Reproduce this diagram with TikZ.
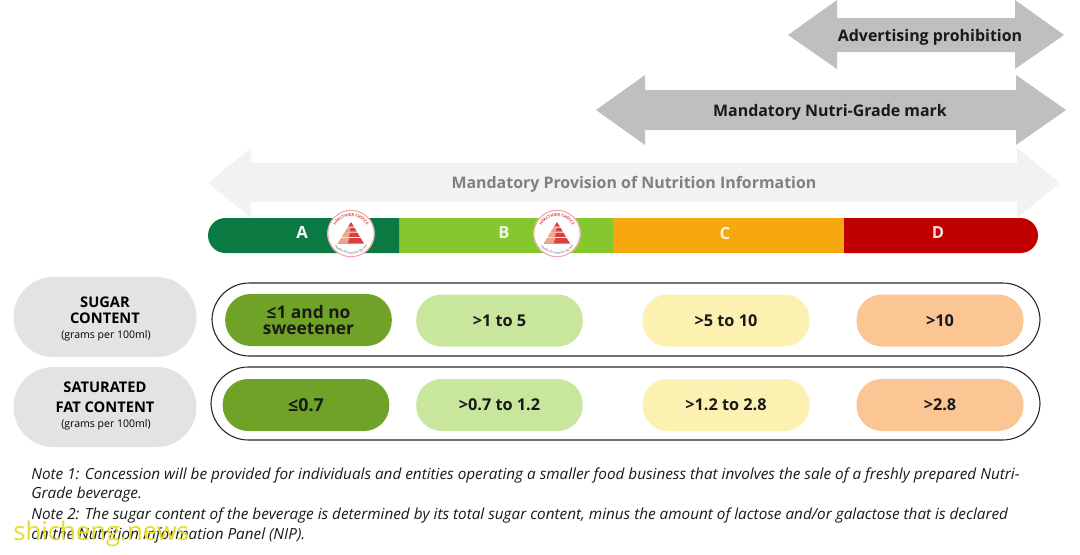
\documentclass[tikz,border=0pt]{standalone}
\usepackage{fontspec}
\setmainfont{Open Sans}
\usetikzlibrary{decorations.text}
\definecolor{gA}{HTML}{0B7A42}
\definecolor{gB}{HTML}{84C72E}
\definecolor{gC}{HTML}{F7A80F}
\definecolor{gD}{HTML}{C00000}
\definecolor{cA}{HTML}{6FA227}
\definecolor{cB}{HTML}{C8E69C}
\definecolor{cC}{HTML}{FCF1B0}
\definecolor{cD}{HTML}{FBC594}
\definecolor{arrowdark}{HTML}{BFBFBF}
\definecolor{arrowlight}{HTML}{F2F2F2}
\definecolor{sidegray}{HTML}{E3E3E3}
\definecolor{logored}{HTML}{D9403F}
\definecolor{logopink}{HTML}{EFA68F}
\definecolor{wm}{HTML}{E6DC2A}
\tikzset{
  x=0.75pt,y=-0.75pt,
  pill/.style={rounded corners=19pt,minimum width=125.25pt,minimum height=39pt,inner sep=0pt,align=center,font=\fontsize{12.2}{12.2}\selectfont\bfseries,text=black!90},
  frame/.style={draw=black!85,line width=0.8pt,fill=white,rounded corners=28pt},
  side/.style={fill=sidegray,rounded corners=30pt,minimum width=137.25pt,minimum height=60pt,inner sep=0pt,align=center},
  sidehead/.style={font=\fontsize{11}{12}\selectfont\bfseries},
  barlabel/.style={font=\fontsize{12.5}{14}\selectfont\bfseries},
  arrowlabel/.style={font=\fontsize{11.95}{15}\selectfont\bfseries},
  note/.style={anchor=west,inner sep=0pt,font=\fontsize{11.47}{13}\selectfont\itshape,text=black!90},
}
\newcommand{\hclogo}[1]{%
  \begin{scope}[shift={(#1,233.5)},x=0.75pt,y=0.75pt]
    \fill[white] (0,0) circle (17.8pt);
    \draw[logored!45,line width=0.8pt] (0,0) circle (17.4pt);
    \fill[logored] (0,11.5)--(2.8,7)--(-2.8,7)--cycle;
    \fill[logored] (-3.3,6)--(3.3,6)--(5.8,2)--(-5.8,2)--cycle;
    \fill[logopink] (-3.3,6)--(0,6)--(-1.5,2)--(-5.8,2)--cycle;
    \fill[logored] (-6.4,1)--(6.4,1)--(9,-3.5)--(-9,-3.5)--cycle;
    \fill[logopink] (-6.4,1)--(-0.8,1)--(-2.5,-3.5)--(-9,-3.5)--cycle;
    \fill[logored] (-9.6,-4.5)--(9.6,-4.5)--(13,-10)--(-13,-10)--cycle;
    \fill[logopink] (-9.6,-4.5)--(-1.6,-4.5)--(-3.5,-10)--(-13,-10)--cycle;
    \path[postaction={decorate,decoration={text along path,text align=center,
      text={|\fontsize{3}{4}\selectfont\bfseries\color{logored}|HEALTHIER CHOICE}}}]
      (165:13pt) arc[start angle=165,end angle=15,radius=13pt];
    \path[postaction={decorate,decoration={text along path,text align=center,
      text={|\fontsize{2.5}{4}\selectfont\color{black!60}|Health Promotion Board}}}]
      (200:15.6pt) arc[start angle=200,end angle=340,radius=15.6pt];
  \end{scope}}
\begin{document}
\begin{tikzpicture}
\useasboundingbox (0,0) rectangle (1080,554);
\fill[white] (0,0) rectangle (1080,554);
% arrows
\fill[arrowlight] (208,183)--(251,148)--(251,163)--(1017,163)--(1017,148)--(1060,183)--(1017,218)--(1017,202)--(251,202)--(251,218)--cycle;
\fill[arrowdark] (596,110)--(645,75)--(645,90)--(1016,90)--(1016,75)--(1066,110)--(1016,145)--(1016,130)--(645,130)--(645,145)--cycle;
\fill[arrowdark] (788,35)--(837,0)--(837,18)--(1015,18)--(1015,0)--(1064,35)--(1015,69)--(1015,52)--(837,52)--(837,69)--cycle;
\node[arrowlabel,text=black!90] (adv) at (930,37) {Advertising prohibition};
\node[arrowlabel,text=black!90] (mand) at (830,112) {Mandatory Nutri-Grade mark};
\node[arrowlabel,text=black!50] (prov) at (634,184.5) {Mandatory Provision of Nutrition Information};
% grade bar
\fill[gB] (399,218) rectangle (613,253);
\fill[gC] (613,218) rectangle (844,253);
\fill[gA] (399,218) [rounded corners=13.1pt] -- (208,218) -- (208,253) [sharp corners] -- (399,253) -- cycle;
\fill[gD] (844,218) [rounded corners=13.1pt] -- (1038,218) -- (1038,253) [sharp corners] -- (844,253) -- cycle;
\node[barlabel,text=white] (gradeA) at (302,232.5) {A};
\node[barlabel,text=white!85!gB] (gradeB) at (504,232.5) {B};
\node[barlabel,text=white!85!gC] (gradeC) at (725,233.5) {C};
\node[barlabel,text=white!85!gD] (gradeD) at (938,232.5) {D};
\hclogo{351}
\hclogo{557}
% side labels
\node[side] (sugar) at (105,317) {};
\node[sidehead] (sugarA) at (105,302) {SUGAR};
\node[sidehead] (sugarB) at (105,318.5) {CONTENT};
\node[font=\fontsize{7.9}{10}\selectfont] (sugarC) at (106,336) {(grams per 100ml)};
\node[side] (fat) at (105,407) {};
\node[sidehead] (fatA) at (105,387.5) {SATURATED};
\node[sidehead] (fatB) at (105,407.5) {FAT CONTENT};
\node[font=\fontsize{7.9}{10}\selectfont] (fatC) at (106,425) {(grams per 100ml)};
% frames
\draw[frame] (212,283) rectangle (1040,356);
\draw[frame] (211,367) rectangle (1040,440);
% pills
\node[pill,fill=cA,minimum width=124.9pt] (s1) at (308.5,320) {\fontsize{13}{13.6}\selectfont ≤1 and no\\\fontsize{13}{13.6}\selectfont sweetener};
\node[pill,fill=cB,minimum width=124.9pt] (s2) at (499.5,320.5) {>1 to 5};
\node[pill,fill=cC] (s3) at (726,320.5) {>5 to 10};
\node[pill,fill=cD] (s4) at (940,320.5) {>10};
\node[pill,fill=cA,minimum width=124.9pt] (f1) at (306,405) {\fontsize{13.4}{14}\selectfont ≤0.7};
\node[pill,fill=cB,minimum width=124.9pt] (f2) at (499.5,405) {>0.7 to 1.2};
\node[pill,fill=cC] (f3) at (726,405) {>1.2 to 2.8};
\node[pill,fill=cD] (f4) at (940,405) {>2.8};
% notes
\node[note] (n1) at (31,475.5) {Note 1: Concession will be provided for individuals and entities operating a smaller food business that involves the sale of a freshly prepared Nutri-};
\node[note] (n2) at (31,495) {Grade beverage.};
\node[note] (n3) at (31,515) {Note 2: The sugar content of the beverage is determined by its total sugar content, minus the amount of lactose and/or galactose that is declared};
\node[note] (n4) at (31,535) {on the Nutrition Information Panel (NIP).};
\node[anchor=west,inner sep=0pt,text=wm,font=\fontsize{19.3}{20}\selectfont] (wmark) at (13,534) {shicheng.news};
\end{tikzpicture}
\end{document}
